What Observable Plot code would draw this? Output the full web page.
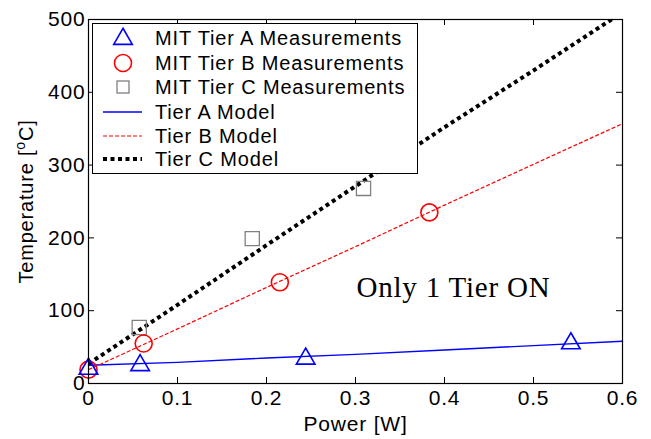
<!DOCTYPE html>
<html><head><meta charset="utf-8">
<script src="https://cdn.jsdelivr.net/npm/d3@7"></script>
<script src="https://cdn.jsdelivr.net/npm/@observablehq/plot@0.6"></script>
<style>
body{margin:0;background:#fff}
#wrap{position:relative;width:651px;height:439px}
#legend{position:absolute;left:92px;top:23px;width:326px;height:151px;box-sizing:border-box;border:1px solid #000;background:#fff}
</style>
</head><body><div id="wrap"><div id="legend"></div></div>
<script>
// Measurements
const tierAPower = [0, 0.058, 0.244, 0.542];
const tierATemp  = [20, 25, 34, 55];
const tierBPower = [0, 0.062, 0.215, 0.383];
const tierBTemp  = [19, 55, 139, 235];
const tierCPower = [0.057, 0.184, 0.309];
const tierCTemp  = [77, 199, 268];
// Models
const modelPower = [0, 0.1, 0.2, 0.3, 0.4, 0.5, 0.6];
const modelA = [25, 29, 35, 40, 46, 52, 58];
const modelB = [19, 75, 132, 188, 245, 301, 357];
const modelC = [27, 108, 190, 271, 352, 430, 510];
// Ticks
const xTicks = [0, 0.1, 0.2, 0.3, 0.4, 0.5, 0.6];
const yTicks = [0, 100, 200, 300, 400, 500];
const legendLabels = ["MIT Tier A Measurements","MIT Tier B Measurements","MIT Tier C Measurements","Tier A Model","Tier B Model","Tier C Model"];

const zip = (xs, ys) => xs.map((x, i) => ({x, y: ys[i]}));
const W = 651, H = 439, mL = 88, mR = 29, mT = 19, mB = 56;
const innerW = W - mL - mR, innerH = H - mT - mB, tl = 6;
const BLUE = "#0000ff", RED = "#ff0000", GRAY = "#808080";
const font = "'Liberation Sans', Arial, Helvetica, sans-serif";

const svg = Plot.plot({
  width: W, height: H,
  marginLeft: mL, marginRight: mR, marginTop: mT, marginBottom: mB,
  x: {domain: [0, 0.6]},
  y: {domain: [0, 500]},
  style: {fontFamily: font, fontSize: "21px", background: "white", color: "black", letterSpacing: "0.8px"},
  marks: [
    Plot.line(zip(modelPower, modelA), {x: "x", y: "y", stroke: BLUE, strokeWidth: 1.4}),
    Plot.line(zip(modelPower, modelB), {x: "x", y: "y", stroke: RED, strokeWidth: 1.2, strokeDasharray: "4,2", strokeLinecap: "butt"}),
    Plot.line(zip(modelPower, modelC), {x: "x", y: "y", stroke: "black", strokeWidth: 4, strokeDasharray: "4,3.5", strokeLinecap: "butt", clip: true}),
    Plot.dot(zip(tierCPower, tierCTemp), {x: "x", y: "y", symbol: "square", r: 8, stroke: GRAY, fill: "none", strokeWidth: 1.3}),
    Plot.dot(zip(tierBPower, tierBTemp), {x: "x", y: "y", symbol: "circle", r: 8.5, stroke: RED, fill: "none", strokeWidth: 1.6}),
    Plot.dot(zip(tierAPower, tierATemp), {x: "x", y: "y", symbol: "triangle", r: 6.9, stroke: BLUE, fill: "none", strokeWidth: 1.6}),
    Plot.ruleX(xTicks, {x: d => d, insetTop: innerH - tl, stroke: "black"}),
    Plot.ruleX(xTicks, {x: d => d, insetBottom: innerH - tl, stroke: "black"}),
    Plot.ruleY(yTicks, {y: d => d, insetRight: innerW - tl, stroke: "black"}),
    Plot.ruleY(yTicks, {y: d => d, insetLeft: innerW - tl, stroke: "black"}),
    Plot.frame({stroke: "black", strokeWidth: 1.2}),
    Plot.axisX({ticks: xTicks, tickSize: 0, tickPadding: 7, tickFormat: d => String(d), label: null, fontSize: 21}),
    Plot.axisY({ticks: yTicks, tickSize: 0, tickPadding: 3, tickFormat: d => String(d), label: null, fontSize: 21}),
    Plot.text(["Power [W]"], {frameAnchor: "bottom", dy: 47, fontSize: 21}),
    Plot.text(["Temperature [oC]"], {frameAnchor: "left", textAnchor: "middle", rotate: -90, dx: -56, lineAnchor: "bottom", fontSize: 20, letterSpacing: "0px"}),
    Plot.text(["Only 1 Tier ON"], {frameAnchor: "bottom-right", textAnchor: "end", dx: -72, dy: -87, fontFamily: "'Liberation Serif', 'Times New Roman', serif", fontSize: 29, letterSpacing: "0px"})
  ]
});
document.getElementById("wrap").insertBefore(svg, document.getElementById("legend"));
svg.style.position = "absolute"; svg.style.left = "0"; svg.style.top = "0";

// superscript degree
d3.select(svg).selectAll("text").filter(function() { return this.textContent === "Temperature [oC]"; })
  .each(function() {
    const t = d3.select(this); t.text(null);
    t.append("tspan").text("Temperature [");
    t.append("tspan").attr("dy", -8).attr("font-size", 14).text("o");
    t.append("tspan").attr("dy", 8).text("C]");
  });

// legend
const lg = d3.select("#legend").append("svg").attr("width", 324).attr("height", 149)
  .style("font-family", font).style("font-size", "20px");
const rowsY = [14, 39, 63, 88, 112, 135];
const sx = 30;
const sym = (type, r) => d3.symbol(type, Math.PI * r * r)();
lg.append("path").attr("d", sym(d3.symbolTriangle, 6.9)).attr("transform", `translate(${sx},${rowsY[0] + 1})`).attr("fill", "none").attr("stroke", BLUE).attr("stroke-width", 1.6);
lg.append("circle").attr("cx", sx).attr("cy", rowsY[1]).attr("r", 8.5).attr("fill", "none").attr("stroke", RED).attr("stroke-width", 1.6);
lg.append("rect").attr("x", sx - 6).attr("y", rowsY[2] - 6).attr("width", 12).attr("height", 12).attr("fill", "none").attr("stroke", GRAY).attr("stroke-width", 1.3);
lg.append("line").attr("x1", 10).attr("x2", 49).attr("y1", rowsY[3]).attr("y2", rowsY[3]).attr("stroke", BLUE).attr("stroke-width", 1.4);
lg.append("line").attr("x1", 10).attr("x2", 49).attr("y1", rowsY[4]).attr("y2", rowsY[4]).attr("stroke", RED).attr("stroke-width", 1.2).attr("stroke-dasharray", "4,2");
lg.append("line").attr("x1", 10).attr("x2", 49).attr("y1", rowsY[5]).attr("y2", rowsY[5]).attr("stroke", "black").attr("stroke-width", 4).attr("stroke-dasharray", "4,3.5");
lg.selectAll("text.lab").data(legendLabels).join("text").attr("class", "lab")
  .attr("x", 62).attr("y", (d, i) => rowsY[i]).attr("dy", "0.36em")
  .style("letter-spacing", "0.85px").text(d => d);
</script>
</body></html>
